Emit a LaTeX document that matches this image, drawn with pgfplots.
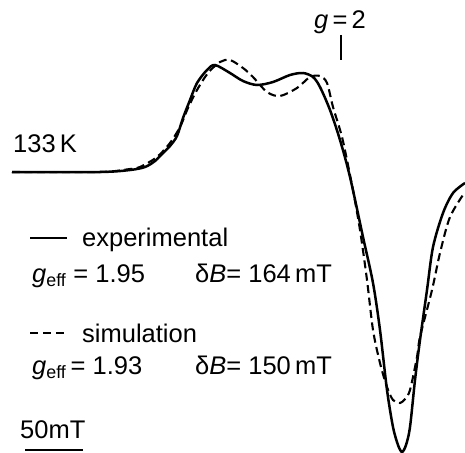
\documentclass[border=0pt]{standalone}
\usepackage{fontspec}
\setmainfont{Liberation Sans}
\usepackage{pgfplots}
\pgfplotsset{compat=1.18}

% curves traced in picture pixels (y measured downwards)
\pgfplotstableread{
x y
12 172
100 172
130 170
145 167
155 161
163 153
170 146
177 136
183 118
190 100
197 83
207 70
215 65
230 73
243 81
257 85
273 82
290 75
303 73
313 77
320 87
330 110
340 140
350 177
363 237
373 283
380 330
387 390
393 427
398 445
402 452
406 445
410 427
415 380
420 340
427 290
433 247
443 213
453 193
465 183
}\experimental

\pgfplotstableread{
x y
12 172
100 172
130 169
140 167
157 157
170 143
180 127
188 108
197 90
208 73
220 62
230 60
243 68
253 77
267 92
280 96
297 88
310 77
320 76
327 83
333 107
342 137
350 175
353 190
360 230
367 280
373 330
380 363
387 387
393 400
400 403
405 399
410 390
417 357
420 337
432 290
440 253
450 217
465 192
}\simulation

\begin{document}
\begin{tikzpicture}[every node/.style={inner sep=0pt, font=\fontsize{25.5}{30}\selectfont}]
\begin{axis}[
  width=465pt, height=452pt, scale only axis,
  xmin=0, xmax=465, ymin=0, ymax=452, y dir=reverse,
  hide axis, clip=false,
]
\addplot[black, line width=2.5pt, smooth, tension=0.5] table {\experimental};
\addplot[black, line width=2.1pt, smooth, tension=0.5, dash pattern=on 8pt off 4.5pt] table {\simulation};

\draw[line width=1.4pt] (axis cs:341,35) -- (axis cs:341,60);
\node[anchor=base] at (axis cs:340,29) {\textit{g}\,=\,2};
\node[anchor=base west] at (axis cs:13,152) {133\,K};

\draw[line width=2.2pt] (axis cs:30,238) -- (axis cs:67,238);
\node[anchor=base west] at (axis cs:82,246) {experimental};
\node[anchor=base west] at (axis cs:32,282) {\textit{g}\textsubscript{eff} = 1.95};
\node[anchor=base west] at (axis cs:195,282) {δ\textit{B}= 164\,mT};

\draw[line width=2pt, dash pattern=on 8pt off 5pt] (axis cs:30,333) -- (axis cs:67,333);
\node[anchor=base west] at (axis cs:82,342) {simulation};
\node[anchor=base west] at (axis cs:32,374) {\textit{g}\textsubscript{eff}\,= 1.93};
\node[anchor=base west] at (axis cs:195,374) {δ\textit{B}= 150\,mT};

\node[anchor=base west] at (axis cs:20,438) {50mT};
\draw[line width=1.6pt] (axis cs:25,450) -- (axis cs:83,450);
\end{axis}
\pgfresetboundingbox
\path (0,0) rectangle (465pt,452pt);
\end{tikzpicture}
\end{document}
